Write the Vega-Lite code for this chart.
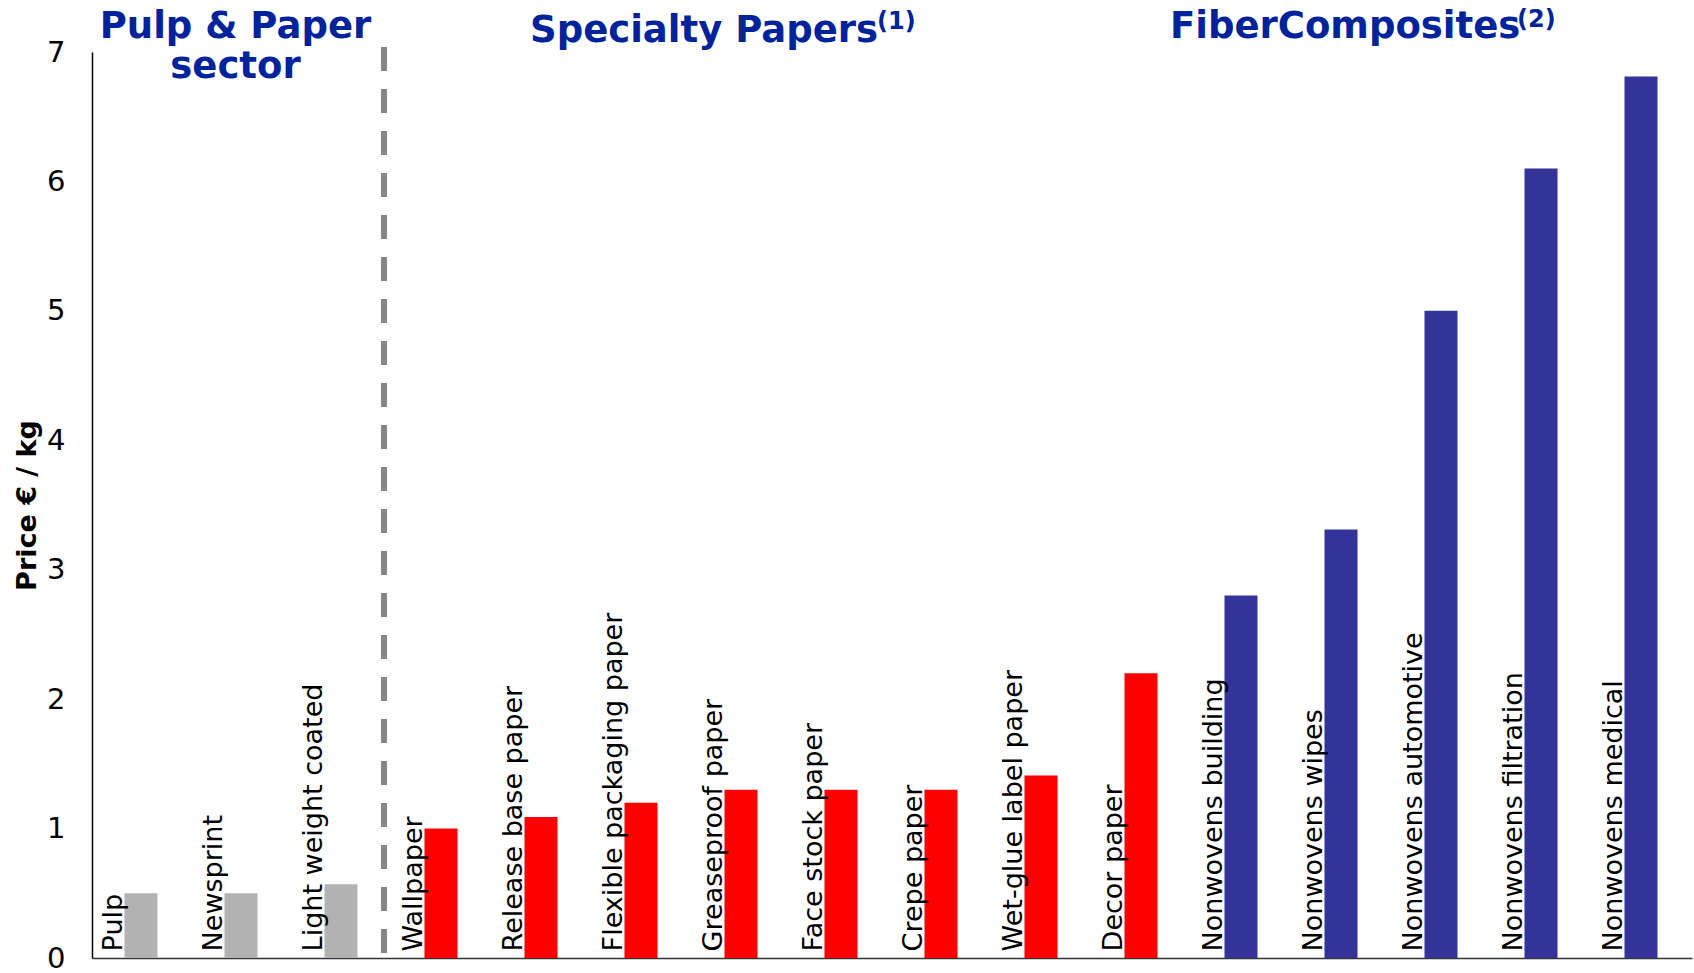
{
  "$schema": "https://vega.github.io/schema/vega-lite/v6.json",
  "width": 1600,
  "height": 906,
  "autosize": {"type": "none"},
  "padding": {"left": 92, "top": 52, "right": 2, "bottom": 15},
  "background": "white",
  "config": {"view": {"stroke": null}, "font": "DejaVu Sans"},
  "datasets": {
    "prices": [
      {"product": "Pulp", "sector": "Pulp & Paper sector", "price": 0.5},
      {"product": "Newsprint", "sector": "Pulp & Paper sector", "price": 0.5},
      {"product": "Light weight coated", "sector": "Pulp & Paper sector", "price": 0.57},
      {"product": "Wallpaper", "sector": "Specialty Papers", "price": 1.0},
      {"product": "Release base paper", "sector": "Specialty Papers", "price": 1.09},
      {"product": "Flexible packaging paper", "sector": "Specialty Papers", "price": 1.2},
      {"product": "Greaseproof paper", "sector": "Specialty Papers", "price": 1.3},
      {"product": "Face stock paper", "sector": "Specialty Papers", "price": 1.3},
      {"product": "Crepe paper", "sector": "Specialty Papers", "price": 1.3},
      {"product": "Wet-glue label paper", "sector": "Specialty Papers", "price": 1.41},
      {"product": "Decor paper", "sector": "Specialty Papers", "price": 2.2},
      {"product": "Nonwovens building", "sector": "FiberComposites", "price": 2.8},
      {"product": "Nonwovens wipes", "sector": "FiberComposites", "price": 3.31},
      {"product": "Nonwovens automotive", "sector": "FiberComposites", "price": 5.0},
      {"product": "Nonwovens filtration", "sector": "FiberComposites", "price": 6.1},
      {"product": "Nonwovens medical", "sector": "FiberComposites", "price": 6.81}
    ]
  },
  "layer": [
    {
      "data": {"name": "prices"},
      "mark": {"type": "bar", "width": 33, "xOffset": -1},
      "encoding": {
        "x": {
          "field": "product",
          "type": "nominal",
          "sort": null,
          "scale": {
            "domain": ["Pulp", "Newsprint", "Light weight coated", "Wallpaper", "Release base paper", "Flexible packaging paper", "Greaseproof paper", "Face stock paper", "Crepe paper", "Wet-glue label paper", "Decor paper", "Nonwovens building", "Nonwovens wipes", "Nonwovens automotive", "Nonwovens filtration", "Nonwovens medical"],
            "paddingInner": 0,
            "paddingOuter": 0
          },
          "axis": {"labels": false, "ticks": false, "title": null, "domainColor": "#333333", "domainWidth": 1.5}
        },
        "y": {
          "field": "price",
          "type": "quantitative",
          "scale": {"domain": [0, 7], "nice": false},
          "axis": {
            "values": [0, 1, 2, 3, 4, 5, 6, 7],
            "format": "d",
            "grid": false,
            "ticks": false,
            "labelPadding": 27,
            "labelFontSize": 29,
            "labelColor": "black",
            "title": "Price € / kg",
            "titleFontSize": 27,
            "titleFontWeight": "bold",
            "titleColor": "black",
            "titlePadding": 5,
            "domainColor": "black",
            "domainWidth": 1.5
          }
        },
        "color": {
          "field": "sector",
          "type": "nominal",
          "scale": {"domain": ["Pulp & Paper sector", "Specialty Papers", "FiberComposites"], "range": ["#B2B2B2", "#FF0000", "#333399"]},
          "legend": null
        }
      }
    },
    {
      "data": {"name": "prices"},
      "mark": {"type": "text", "angle": 270, "align": "left", "baseline": "alphabetic", "fontSize": 27, "color": "black", "xOffset": -20, "yOffset": -6.6},
      "encoding": {
        "x": {"field": "product", "type": "nominal"},
        "y": {"datum": 0},
        "text": {"field": "product"}
      }
    },
    {
      "data": {"values": [{"divider": "sector boundary"}]},
      "mark": {"type": "rule", "strokeDash": [24, 18], "strokeWidth": 6, "strokeCap": "butt", "color": "#858585", "xOffset": 42, "yOffset": -5, "y2Offset": -5},
      "encoding": {
        "x": {"datum": "Light weight coated", "type": "nominal"},
        "y": {"datum": 7},
        "y2": {"datum": 0}
      }
    },
    {
      "data": {"values": [{"heading": "Pulp & Paper\nsector"}]},
      "mark": {"type": "text", "fontSize": 37, "fontWeight": "bold", "color": "#00239C", "align": "center", "baseline": "alphabetic", "lineBreak": "\n", "lineHeight": 40, "xOffset": -6.5, "yOffset": -14},
      "encoding": {
        "x": {"datum": "Newsprint", "type": "nominal"},
        "y": {"datum": 7},
        "text": {"field": "heading"}
      }
    },
    {
      "data": {"values": [{"heading": "Specialty Papers"}]},
      "mark": {"type": "text", "fontSize": 37, "fontWeight": "bold", "color": "#00239C", "align": "left", "baseline": "alphabetic", "xOffset": -12, "yOffset": -10.5},
      "encoding": {
        "x": {"datum": "Release base paper", "type": "nominal"},
        "y": {"datum": 7},
        "text": {"field": "heading"}
      }
    },
    {
      "data": {"values": [{"note": "(1)"}]},
      "mark": {"type": "text", "fontSize": 24, "fontWeight": "bold", "color": "#00239C", "align": "left", "baseline": "alphabetic", "xOffset": 35, "yOffset": -23},
      "encoding": {
        "x": {"datum": "Face stock paper", "type": "nominal"},
        "y": {"datum": 7},
        "text": {"field": "note"}
      }
    },
    {
      "data": {"values": [{"heading": "FiberComposites"}]},
      "mark": {"type": "text", "fontSize": 37, "fontWeight": "bold", "color": "#00239C", "align": "left", "baseline": "alphabetic", "xOffset": -72, "yOffset": -14},
      "encoding": {
        "x": {"datum": "Nonwovens building", "type": "nominal"},
        "y": {"datum": 7},
        "text": {"field": "heading"}
      }
    },
    {
      "data": {"values": [{"note": "(2)"}]},
      "mark": {"type": "text", "fontSize": 24, "fontWeight": "bold", "color": "#00239C", "align": "left", "baseline": "alphabetic", "xOffset": -25, "yOffset": -25},
      "encoding": {
        "x": {"datum": "Nonwovens filtration", "type": "nominal"},
        "y": {"datum": 7},
        "text": {"field": "note"}
      }
    }
  ]
}
